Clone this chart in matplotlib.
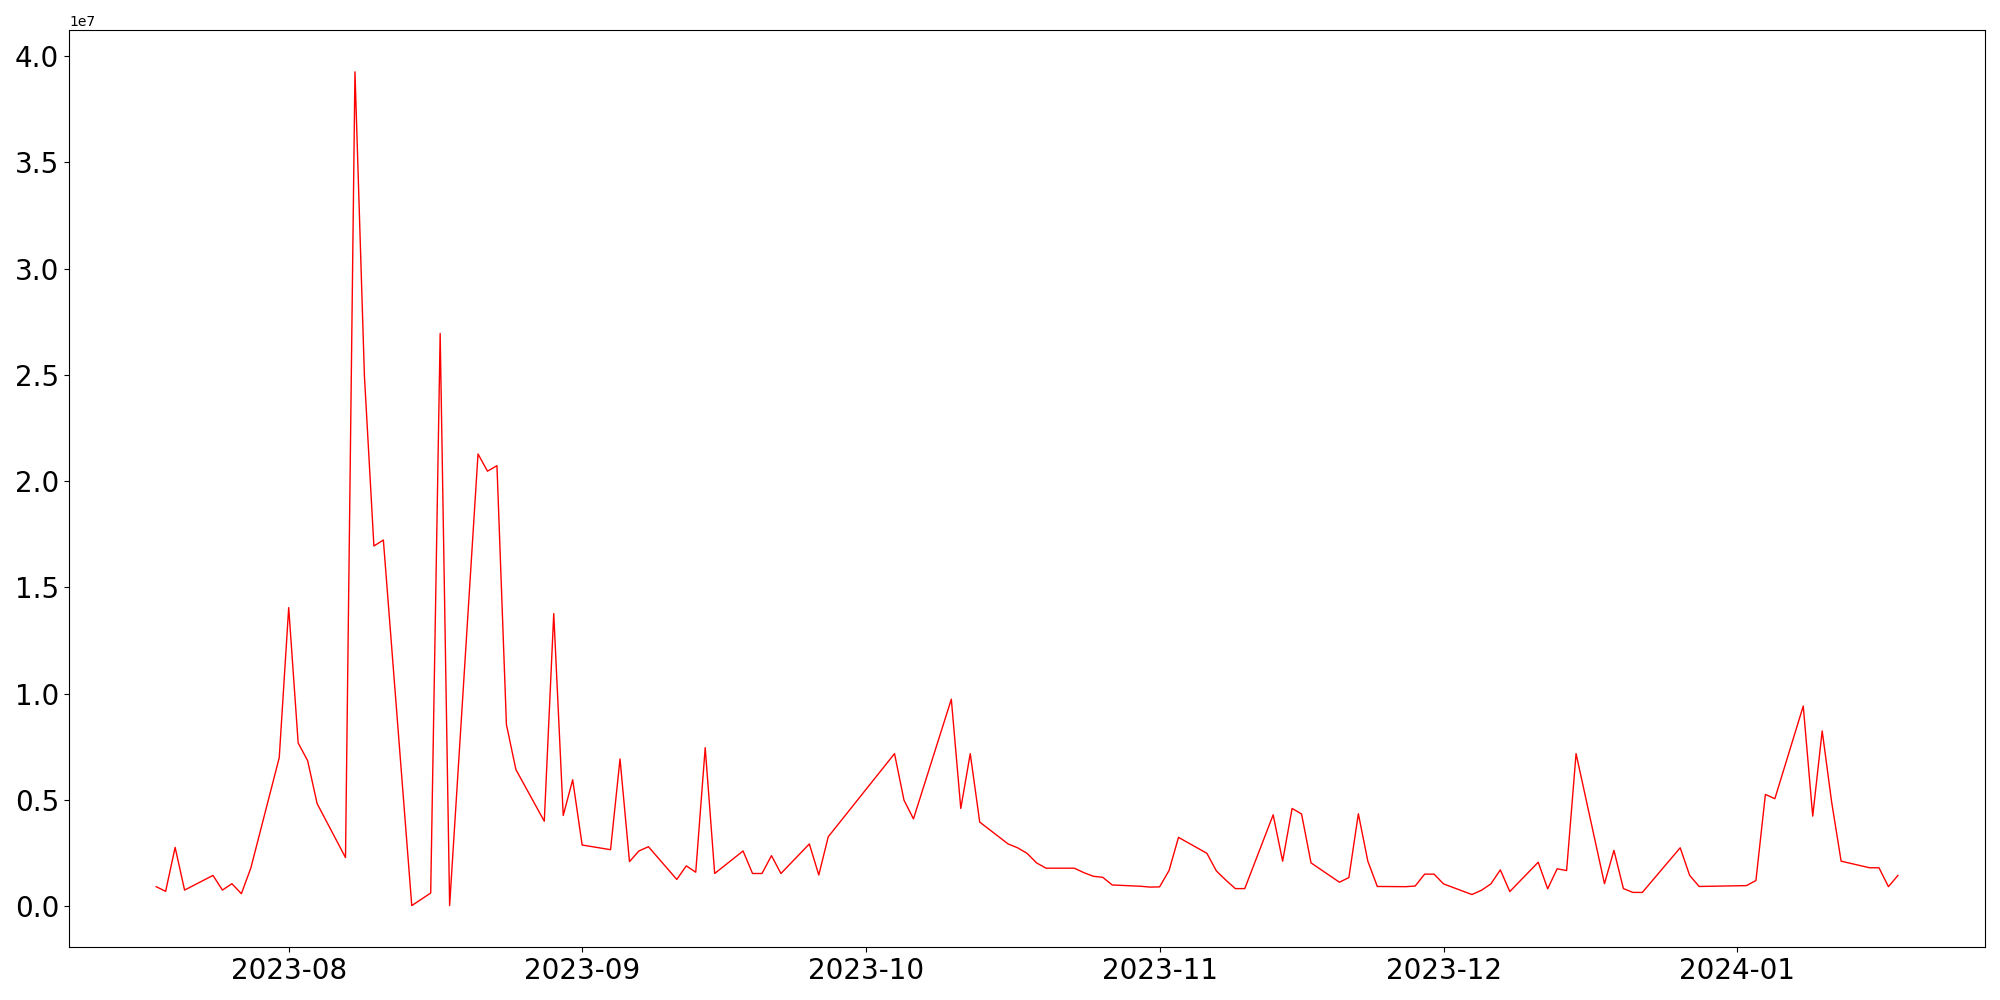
import matplotlib
matplotlib.use('Agg')
import matplotlib.pyplot as plt
import pandas as pd

# trading days (KRX calendar) and values
dates = [
    '2023-07-18', '2023-07-19', '2023-07-20', '2023-07-21', '2023-07-24',
    '2023-07-25', '2023-07-26', '2023-07-27', '2023-07-28', '2023-07-31',
    '2023-08-01', '2023-08-02', '2023-08-03', '2023-08-04', '2023-08-07',
    '2023-08-08', '2023-08-09', '2023-08-10', '2023-08-11', '2023-08-14',
    '2023-08-16', '2023-08-17', '2023-08-18', '2023-08-21', '2023-08-22',
    '2023-08-23', '2023-08-24', '2023-08-25', '2023-08-28', '2023-08-29',
    '2023-08-30', '2023-08-31', '2023-09-01', '2023-09-04', '2023-09-05',
    '2023-09-06', '2023-09-07', '2023-09-08', '2023-09-11', '2023-09-12',
    '2023-09-13', '2023-09-14', '2023-09-15', '2023-09-18', '2023-09-19',
    '2023-09-20', '2023-09-21', '2023-09-22', '2023-09-25', '2023-09-26',
    '2023-09-27', '2023-10-04', '2023-10-05', '2023-10-06', '2023-10-10',
    '2023-10-11', '2023-10-12', '2023-10-13', '2023-10-16', '2023-10-17',
    '2023-10-18', '2023-10-19', '2023-10-20', '2023-10-23', '2023-10-24',
    '2023-10-25', '2023-10-26', '2023-10-27', '2023-10-30', '2023-10-31',
    '2023-11-01', '2023-11-02', '2023-11-03', '2023-11-06', '2023-11-07',
    '2023-11-08', '2023-11-09', '2023-11-10', '2023-11-13', '2023-11-14',
    '2023-11-15', '2023-11-16', '2023-11-17', '2023-11-20', '2023-11-21',
    '2023-11-22', '2023-11-23', '2023-11-24', '2023-11-27', '2023-11-28',
    '2023-11-29', '2023-11-30', '2023-12-01', '2023-12-04', '2023-12-05',
    '2023-12-06', '2023-12-07', '2023-12-08', '2023-12-11', '2023-12-12',
    '2023-12-13', '2023-12-14', '2023-12-15', '2023-12-18', '2023-12-19',
    '2023-12-20', '2023-12-21', '2023-12-22', '2023-12-26', '2023-12-27',
    '2023-12-28', '2024-01-02', '2024-01-03', '2024-01-04', '2024-01-05',
    '2024-01-08', '2024-01-09', '2024-01-10', '2024-01-11', '2024-01-12',
    '2024-01-15', '2024-01-16', '2024-01-17', '2024-01-18',
]

# values in units of 1e7
values_e7 = [
    0.092, 0.070, 0.277, 0.076, 0.145,
    0.076, 0.106, 0.059, 0.180, 0.699,
    1.405, 0.768, 0.685, 0.483, 0.229,
    3.926, 2.494, 1.695, 1.723, 0.003,
    0.062, 2.695, 0.003, 2.128, 2.047,
    2.073, 0.855, 0.643, 0.400, 1.377,
    0.427, 0.595, 0.288, 0.266, 0.693,
    0.210, 0.260, 0.280, 0.126, 0.190,
    0.160, 0.746, 0.154, 0.260, 0.154,
    0.154, 0.238, 0.154, 0.293, 0.147,
    0.327, 0.718, 0.499, 0.411, 0.974,
    0.460, 0.718, 0.396, 0.293, 0.275,
    0.249, 0.204, 0.179, 0.179, 0.158,
    0.141, 0.136, 0.100, 0.094, 0.090,
    0.091, 0.168, 0.324, 0.249, 0.166,
    0.123, 0.083, 0.083, 0.430, 0.212,
    0.460, 0.434, 0.204, 0.113, 0.135,
    0.435, 0.212, 0.093, 0.092, 0.095,
    0.151, 0.151, 0.105, 0.055, 0.075,
    0.105, 0.171, 0.069, 0.207, 0.082,
    0.176, 0.168, 0.718, 0.106, 0.263,
    0.083, 0.065, 0.065, 0.275, 0.145,
    0.093, 0.097, 0.121, 0.526, 0.506,
    0.942, 0.424, 0.825, 0.490, 0.212,
    0.181, 0.181, 0.092, 0.145,
]

x = pd.to_datetime(dates)
y = [v * 1e7 for v in values_e7]

fig, ax = plt.subplots(figsize=(20, 10), dpi=100)
ax.plot(x, y, color='red', linewidth=1)

plt.xticks(fontsize=20)
plt.yticks(fontsize=20)

plt.tight_layout()
plt.savefig('out.png')
